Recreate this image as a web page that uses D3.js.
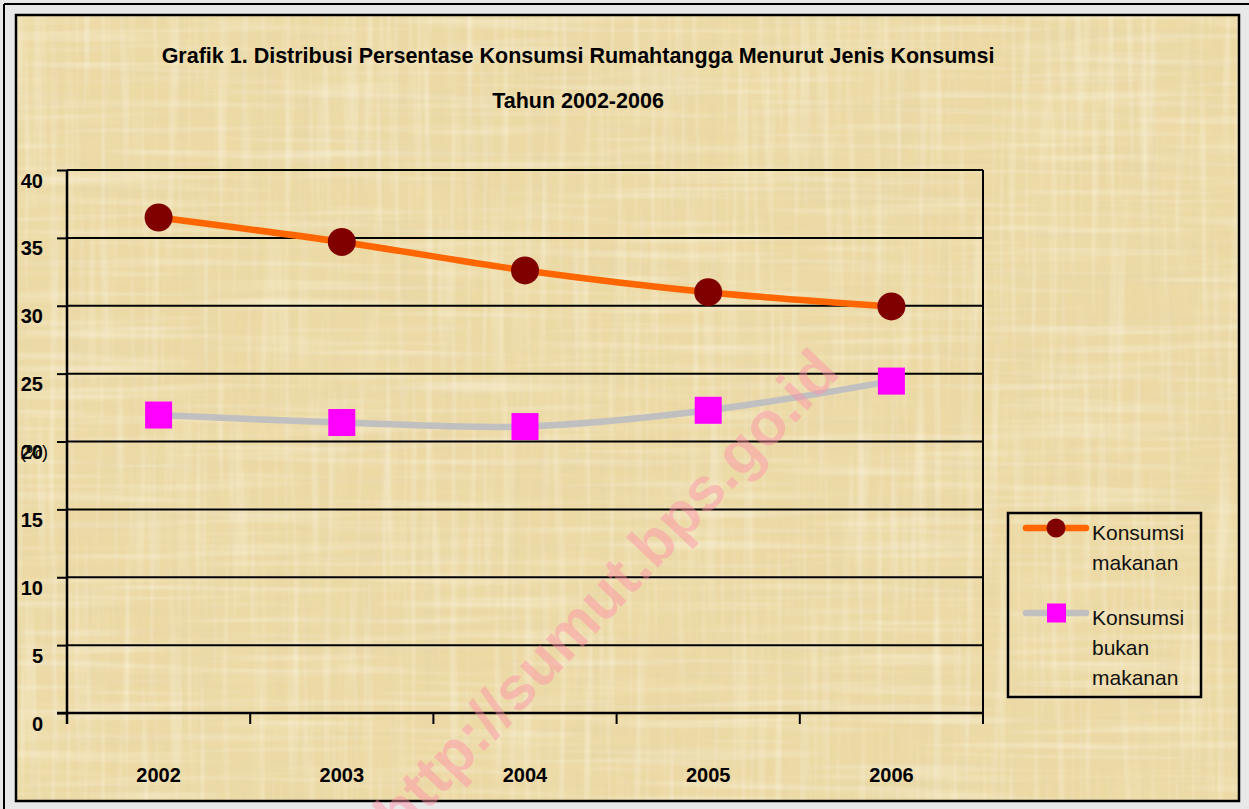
<!DOCTYPE html>
<html>
<head>
<meta charset="utf-8">
<script src="https://cdn.jsdelivr.net/npm/d3@7"></script>
<style>
  html, body { margin: 0; padding: 0; background: #e8e8e8; }
  svg { display: block; }
</style>
</head>
<body>
<svg id="chart"></svg>
<script>
// data
const years = ['2002', '2003', '2004', '2005', '2006'];
const makanan = [36.5, 34.7, 32.6, 31.0, 29.95];
const bukanMakanan = [21.95, 21.4, 21.1, 22.3, 24.45];
const yTicks = [0, 5, 10, 15, 20, 25, 30, 35, 40];
const seriesNames = [['Konsumsi', 'makanan'], ['Konsumsi', 'bukan', 'makanan']];
const titleLines = ['Grafik 1. Distribusi Persentase Konsumsi Rumahtangga Menurut Jenis Konsumsi', 'Tahun 2002-2006'];

const width = 1249;
const height = 809;
const plot = { left: 67, right: 983, top: 170, bottom: 713 };
const font = 'Arial, "Liberation Sans", sans-serif';

const svg = d3.select('#chart').attr('width', width).attr('height', height);

/* paper texture */
const defs = svg.append('defs');
function fibre(id, freq, seed, color, a, b) {
  const f = defs.append('filter').attr('id', id)
    .attr('x', 0).attr('y', 0).attr('width', '100%').attr('height', '100%');
  f.append('feTurbulence').attr('type', 'fractalNoise')
    .attr('baseFrequency', freq).attr('numOctaves', 2).attr('seed', seed);
  f.append('feColorMatrix').attr('type', 'matrix')
    .attr('values', `0 0 0 0 ${color[0]}  0 0 0 0 ${color[1]}  0 0 0 0 ${color[2]}  ${a} 0 0 0 ${b}`);
}
fibre('blot', '0.01 0.01', 7, [0.86, 0.74, 0.42], 0.9, -0.35);
fibre('fibH', '0.004 0.1', 4, [0.78, 0.66, 0.4], 0.9, -0.42);
fibre('fibV', '0.1 0.004', 9, [0.78, 0.66, 0.4], 0.9, -0.42);
fibre('litH', '0.005 0.12', 21, [0.98, 0.93, 0.8], 1.0, -0.48);
fibre('litV', '0.12 0.005', 33, [0.98, 0.93, 0.8], 1.0, -0.48);

// outer border lines (top / left only)
svg.append('line').attr('x1', 4).attr('x2', width).attr('y1', 4).attr('y2', 4)
  .attr('stroke', '#000').attr('stroke-width', 2);
svg.append('line').attr('x1', 4).attr('x2', 4).attr('y1', 4).attr('y2', height)
  .attr('stroke', '#000').attr('stroke-width', 2);

const frame = { x: 16, y: 15, w: 1223, h: 786 };
svg.append('rect').attr('x', frame.x).attr('y', frame.y)
  .attr('width', frame.w).attr('height', frame.h).attr('fill', '#ecd9a4');
['blot', 'fibH', 'fibV', 'litH', 'litV'].forEach(id => {
  svg.append('rect').attr('x', frame.x).attr('y', frame.y)
    .attr('width', frame.w).attr('height', frame.h)
    .attr('filter', `url(#${id})`);
});
svg.append('rect').attr('x', frame.x).attr('y', frame.y)
  .attr('width', frame.w).attr('height', frame.h)
  .attr('fill', 'none').attr('stroke', '#000').attr('stroke-width', 2.5);

/* titles */
svg.selectAll('text.title')
  .data(titleLines)
  .enter()
  .append('text')
  .attr('class', 'title')
  .attr('x', 578)
  .attr('y', (d, i) => 63 + i * 45)
  .attr('text-anchor', 'middle')
  .style('font-family', font)
  .style('font-weight', 'bold')
  .style('font-size', '21.5px')
  .text(d => d);

/* scales */
const x = d3.scaleBand().domain(years).range([plot.left, plot.right]).padding(0);
const y = d3.scaleLinear().domain([0, 40]).range([plot.bottom, plot.top]);

// grid lines
svg.append('g')
  .selectAll('line')
  .data(yTicks.filter(d => d > 0))
  .enter()
  .append('line')
  .attr('x1', plot.left)
  .attr('x2', plot.right)
  .attr('y1', d => y(d))
  .attr('y2', d => y(d))
  .attr('stroke', '#000')
  .attr('stroke-width', 2);

// right border of plot
svg.append('line')
  .attr('x1', plot.right).attr('x2', plot.right)
  .attr('y1', plot.top).attr('y2', plot.bottom)
  .attr('stroke', '#000').attr('stroke-width', 2);

/* y axis */
const yAxis = d3.axisLeft(y).tickValues(yTicks).tickSize(10).tickPadding(14).tickSizeOuter(0);
const yG = svg.append('g')
  .attr('transform', `translate(${plot.left},0)`)
  .call(yAxis);
yG.select('.domain').remove();
yG.selectAll('.tick line').attr('stroke', '#000').attr('stroke-width', 2);
yG.selectAll('.tick text')
  .attr('dy', '0.85em')
  .attr('fill', '#000')
  .style('font-family', font)
  .style('font-weight', 'bold')
  .style('font-size', '20px');
svg.append('line')
  .attr('x1', plot.left).attr('x2', plot.left)
  .attr('y1', plot.top).attr('y2', plot.bottom + 11)
  .attr('stroke', '#000').attr('stroke-width', 2.5);

// stray unit label overlapping the 20 tick
svg.append('text')
  .attr('x', 20)
  .attr('y', y(20) + 16)
  .style('font-family', font)
  .style('font-size', '18px')
  .text('(%)');

/* x axis */
svg.append('line')
  .attr('x1', plot.left - 10).attr('x2', plot.right)
  .attr('y1', plot.bottom).attr('y2', plot.bottom)
  .attr('stroke', '#000').attr('stroke-width', 2.5);
svg.append('g')
  .selectAll('line')
  .data(years.map(d => x(d)).concat([plot.right]))
  .enter()
  .append('line')
  .attr('x1', d => d).attr('x2', d => d)
  .attr('y1', plot.bottom).attr('y2', plot.bottom + 11)
  .attr('stroke', '#000').attr('stroke-width', 2);
svg.append('g')
  .selectAll('text')
  .data(years)
  .enter()
  .append('text')
  .attr('x', d => x(d) + x.bandwidth() / 2)
  .attr('y', 782)
  .attr('text-anchor', 'middle')
  .style('font-family', font)
  .style('font-weight', 'bold')
  .style('font-size', '20px')
  .text(d => d);

/* lines */
const line = d3.line()
  .x((d, i) => x(years[i]) + x.bandwidth() / 2)
  .y(d => y(d))
  .curve(d3.curveCardinal.tension(0));

svg.append('path')
  .attr('d', line(makanan))
  .attr('fill', 'none')
  .attr('stroke', '#ff6600')
  .attr('stroke-width', 6.5);
svg.append('path')
  .attr('d', line(bukanMakanan))
  .attr('fill', 'none')
  .attr('stroke', '#c0c0c0')
  .attr('stroke-width', 6.5);

svg.append('g')
  .selectAll('circle')
  .data(makanan)
  .enter()
  .append('circle')
  .attr('cx', (d, i) => x(years[i]) + x.bandwidth() / 2)
  .attr('cy', d => y(d))
  .attr('r', 14)
  .attr('fill', '#800000');

const sq = 27;
svg.append('g')
  .selectAll('rect')
  .data(bukanMakanan)
  .enter()
  .append('rect')
  .attr('x', (d, i) => x(years[i]) + x.bandwidth() / 2 - sq / 2)
  .attr('y', d => y(d) - sq / 2)
  .attr('width', sq)
  .attr('height', sq)
  .attr('fill', '#ff00ff');

/* legend */
const legend = svg.append('g');
legend.append('rect')
  .attr('x', 1008).attr('y', 513).attr('width', 193).attr('height', 184)
  .attr('fill', 'none').attr('stroke', '#000').attr('stroke-width', 2.5);

const legendY = [528, 613];
const legendColors = ['#ff6600', '#c0c0c0'];
legendY.forEach((ly, k) => {
  legend.append('line')
    .attr('x1', 1026).attr('x2', 1086).attr('y1', ly).attr('y2', ly)
    .attr('stroke', legendColors[k]).attr('stroke-width', 6.5)
    .attr('stroke-linecap', 'round');
  if (k === 0) {
    legend.append('circle').attr('cx', 1056).attr('cy', ly).attr('r', 9.5).attr('fill', '#800000');
  } else {
    legend.append('rect').attr('x', 1047).attr('y', ly - 9.5).attr('width', 19).attr('height', 19).attr('fill', '#ff00ff');
  }
  legend.append('g')
    .selectAll('text')
    .data(seriesNames[k])
    .enter()
    .append('text')
    .attr('x', 1092)
    .attr('y', (d, i) => ly + 12 + i * 30)
    .style('font-family', font)
    .style('font-size', '21px')
    .attr('fill', '#111')
    .text(d => d);
});

/* watermark */
svg.append('text')
  .attr('transform', 'translate(606,592) rotate(-46.5)')
  .attr('text-anchor', 'middle')
  .attr('dominant-baseline', 'central')
  .style('font-family', font)
  .style('font-weight', 'bold')
  .style('font-size', '61px')
  .attr('fill', '#ff8fa8')
  .attr('opacity', 0.45)
  .text('http://sumut.bps.go.id');
</script>
</body>
</html>
